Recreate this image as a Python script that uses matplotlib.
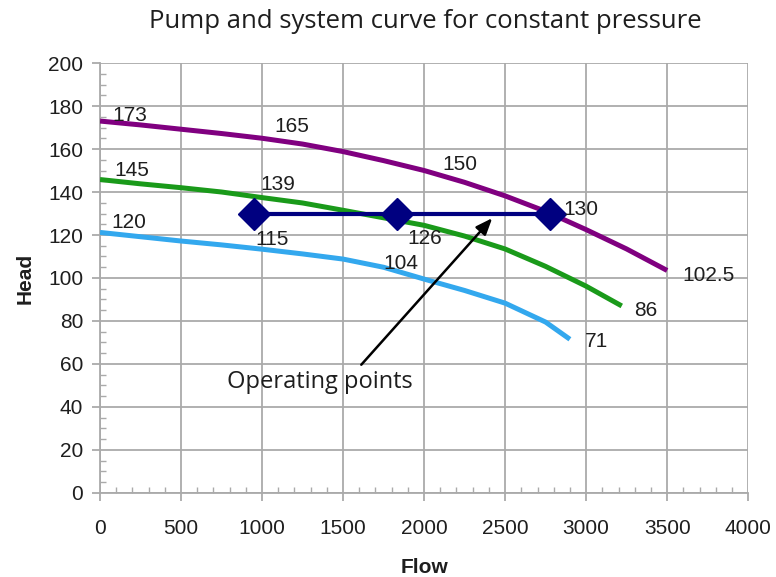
import numpy as np
import matplotlib.pyplot as plt
from matplotlib.ticker import MultipleLocator

# Кривые насосов
flow_purple = [0, 250, 500, 750, 1000, 1250, 1500, 1750, 2000, 2250, 2500, 2750, 3000, 3250, 3500]
head_purple = [173, 171.2, 169.2, 167.2, 165, 162.3, 158.8, 154.6, 150, 144.5, 138.2, 131, 122.5, 113.5, 103.5]

flow_green = [0, 250, 500, 750, 1000, 1250, 1500, 1750, 2000, 2250, 2500, 2750, 3000, 3220]
head_green = [145.8, 143.8, 142, 140, 137.4, 134.9, 131.5, 128, 124.5, 119.5, 113.5, 105.4, 96.2, 87]

flow_blue = [0, 250, 500, 750, 1000, 1250, 1500, 1750, 2000, 2250, 2500, 2750, 2900]
head_blue = [121.2, 119.2, 117.2, 115.4, 113.4, 111.2, 108.8, 105, 99.5, 94.2, 88.3, 79.5, 71.5]

# Рабочие точки
op_flow = [952, 1831, 2778]
op_head = [130, 130, 130]

# Подписи данных: (текст, x, y)
labels = [
    ('173', 185, 175.8), ('165', 1183, 170.7), ('150', 2222, 152.9), ('102.5', 3753, 101.1),
    ('145', 196, 150.2), ('139', 1097, 143.3), ('126', 2006, 118.5), ('86', 3370, 85.1),
    ('120', 179, 125.7), ('115', 1060, 118), ('104', 1858, 106.8), ('71', 3066, 70.4),
    ('130', 2969, 132),
]

arrow_text = 'Operating points'
arrow_text_xy = (1358, 51.8)
arrow_tail = (1601, 58.7)
arrow_head = (2432, 128.8)

plt.rcParams['font.family'] = ['Liberation Sans', 'DejaVu Sans']

fig = plt.figure(figsize=(7.76, 5.77), dpi=100)
ax = fig.add_axes([0.1289, 0.1456, 0.8352, 0.7452])

grid_c = '#aaaaaa'
txt_c = '#1e1e1e'
ax.plot(flow_purple, head_purple, color='#800080', lw=3.6, solid_capstyle='butt', zorder=3)
ax.plot(flow_green, head_green, color='#1a9a1a', lw=3.6, solid_capstyle='butt', zorder=3)
ax.plot(flow_blue, head_blue, color='#33a8ee', lw=3.6, solid_capstyle='butt', zorder=3)
ax.plot(op_flow, op_head, color='#000080', lw=3, marker='D', markersize=16, zorder=4)

for t, x, y in labels:
    ax.text(x, y, t, fontsize=15, ha='center', va='center', color=txt_c, zorder=5)

ax.annotate('', xy=arrow_head, xytext=arrow_tail,
            arrowprops=dict(arrowstyle='-|>,head_length=1.0,head_width=0.4', color='black', lw=1.8),
            zorder=5)
ax.text(*arrow_text_xy, arrow_text, fontsize=17, family='Open Sans', ha='center', va='center',
        color=txt_c, zorder=1)

ax.set_xlim(0, 4000)
ax.set_ylim(0, 200)
ax.xaxis.set_major_locator(MultipleLocator(500))
ax.xaxis.set_minor_locator(MultipleLocator(100))
ax.yaxis.set_major_locator(MultipleLocator(20))
ax.yaxis.set_minor_locator(MultipleLocator(5))
ax.grid(True, which='major', color=grid_c, lw=1.3, zorder=0)
ax.set_axisbelow(True)

ax.tick_params(which='major', direction='out', length=6, width=1.3, color=grid_c, labelsize=15,
               labelcolor=txt_c)
ax.tick_params(axis='x', which='major', pad=13)
ax.tick_params(axis='y', which='major', pad=6)
ax.tick_params(which='minor', direction='in', length=4, width=1, color=grid_c)

for s in ['top', 'right']:
    ax.spines[s].set_visible(False)
for s in ['left', 'bottom']:
    ax.spines[s].set_color(grid_c)
    ax.spines[s].set_linewidth(1.3)

ax.set_xlabel('Flow', fontsize=15, fontweight='bold', color=txt_c, labelpad=14)
ax.set_ylabel('Head', fontsize=15, fontweight='bold', color=txt_c, labelpad=10)
fig.text(0.548, 0.963, 'Pump and system curve for constant pressure', fontsize=18.5,
         family='Open Sans', ha='center', va='center', color=txt_c)

fig.savefig('out.png', dpi=100)
